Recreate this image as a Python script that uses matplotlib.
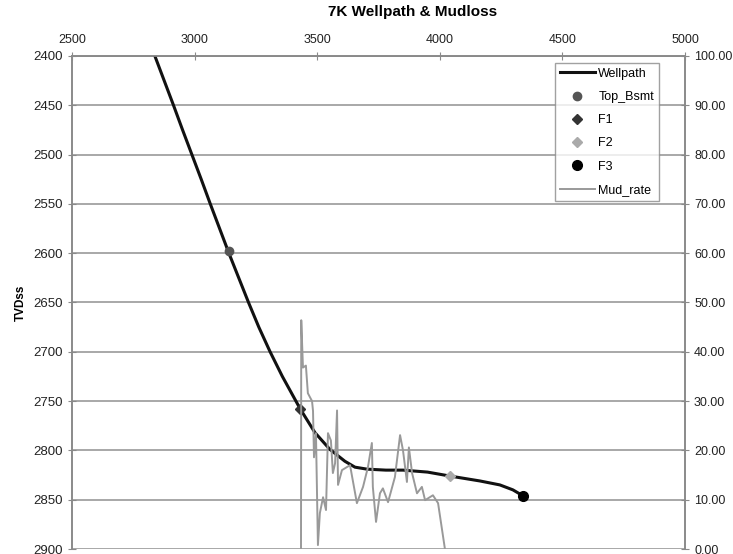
import matplotlib.pyplot as plt
from matplotlib.ticker import FormatStrFormatter

plt.rcParams['font.family'] = ['Liberation Sans', 'DejaVu Sans']

## donnees
well_x = [2838, 2876, 2914, 2951, 2989, 3027, 3064, 3102, 3140, 3180, 3220, 3262,
          3308, 3358, 3431, 3491, 3552, 3613, 3654, 3703, 3780, 3850, 3950, 4041,
          4164, 4245, 4298, 4339]
well_tvd = [2400, 2425, 2450, 2475, 2500, 2525, 2550, 2575, 2600, 2625, 2650, 2675,
            2700, 2725, 2758, 2782, 2799, 2811, 2817, 2819, 2820, 2820, 2822, 2826,
            2831, 2835, 2840, 2846]

top_bsmt = (3140, 2598)
f1 = (3430, 2758)
f2 = (4041, 2826)
f3 = (4339, 2846)

mud_x = [3434, 3435, 3442, 3454, 3462, 3479, 3483, 3487, 3495, 3503, 3511, 3524, 3536,
         3544, 3556, 3564, 3573, 3581, 3585, 3601, 3634, 3662, 3687, 3707, 3723, 3727,
         3740, 3756, 3768, 3789, 3817, 3838, 3850, 3866, 3874, 3887, 3907, 3927, 3940,
         3972, 3993, 4021]
mud_rate = [0, 46.4, 36.8, 37.2, 31.6, 30, 28, 18.6, 23.5, 0.8, 7.3, 10.5, 7.9,
            23.5, 22, 15.4, 17.4, 28.1, 13, 16, 17, 9.3, 12.6, 16.6, 21.5, 12.6,
            5.5, 11.3, 12.3, 9.5, 14.6, 23.1, 20, 13.6, 20.6, 15.4, 11.3, 12.6, 9.9,
            10.9, 9.3, 0]

x_ticks = [2500, 3000, 3500, 4000, 4500, 5000]
tvd_ticks = list(range(2400, 2901, 50))
rate_ticks = list(range(0, 101, 10))

###
fig = plt.figure(figsize=(7.33, 5.54), dpi=100)
ax = fig.add_axes([0.0982, 0.009, 0.8363, 0.890])
ax2 = ax.twinx()

grey = '#8a8a8a'
for y in tvd_ticks:
    ax.axhline(y, color='#9a9a9a', lw=1.2, zorder=0)

l1, = ax.plot(well_x, well_tvd, color='#111111', lw=2.2, label='Wellpath', zorder=3)
p0, = ax.plot(*top_bsmt, 'o', color='#555555', ms=6, label='Top_Bsmt', zorder=4)
p1, = ax.plot(*f1, 'D', color='#333333', ms=5, label='F1', zorder=4)
p2, = ax.plot(*f2, 'D', color='#aaaaaa', ms=5, label='F2', zorder=4)
p3, = ax.plot(*f3, 'o', color='#000000', ms=7, label='F3', zorder=4)
l2, = ax2.plot(mud_x, mud_rate, color='#999999', lw=1.4, label='Mud_rate', zorder=2)

ax.set_xlim(2500, 5000)
ax.set_ylim(2900, 2400)
ax2.set_ylim(0, 100)
ax.set_xticks(x_ticks)
ax.set_yticks(tvd_ticks)
ax2.set_yticks(rate_ticks)
ax2.yaxis.set_major_formatter(FormatStrFormatter('%.2f'))
ax.xaxis.tick_top()

for a in (ax, ax2):
    a.tick_params(direction='inout', length=6, color=grey, labelsize=9.5, labelcolor='#222222')
    for s in a.spines.values():
        s.set_color(grey)
        s.set_linewidth(1.2)
    a.spines['bottom'].set_visible(False)
ax.tick_params(axis='x', pad=4, labelsize=9)
ax2.tick_params(axis='y', labelsize=9)
ax.set_ylabel('TVDss', fontsize=8.5, fontweight='bold', labelpad=5)
fig.text(0.563, 0.978, '7K Wellpath & Mudloss', ha='center', va='center',
         fontsize=11, fontweight='bold')

leg = ax2.legend(handles=[l1, p0, p1, p2, p3, l2], loc='upper right',
                 bbox_to_anchor=(0.968, 0.999), fontsize=9, labelspacing=0.9,
                 borderpad=0.4, handletextpad=0.3, handlelength=2.8,
                 frameon=True, fancybox=False, edgecolor=grey)
leg.get_frame().set_linewidth(1.0)

fig.savefig('out.png', dpi=100)
